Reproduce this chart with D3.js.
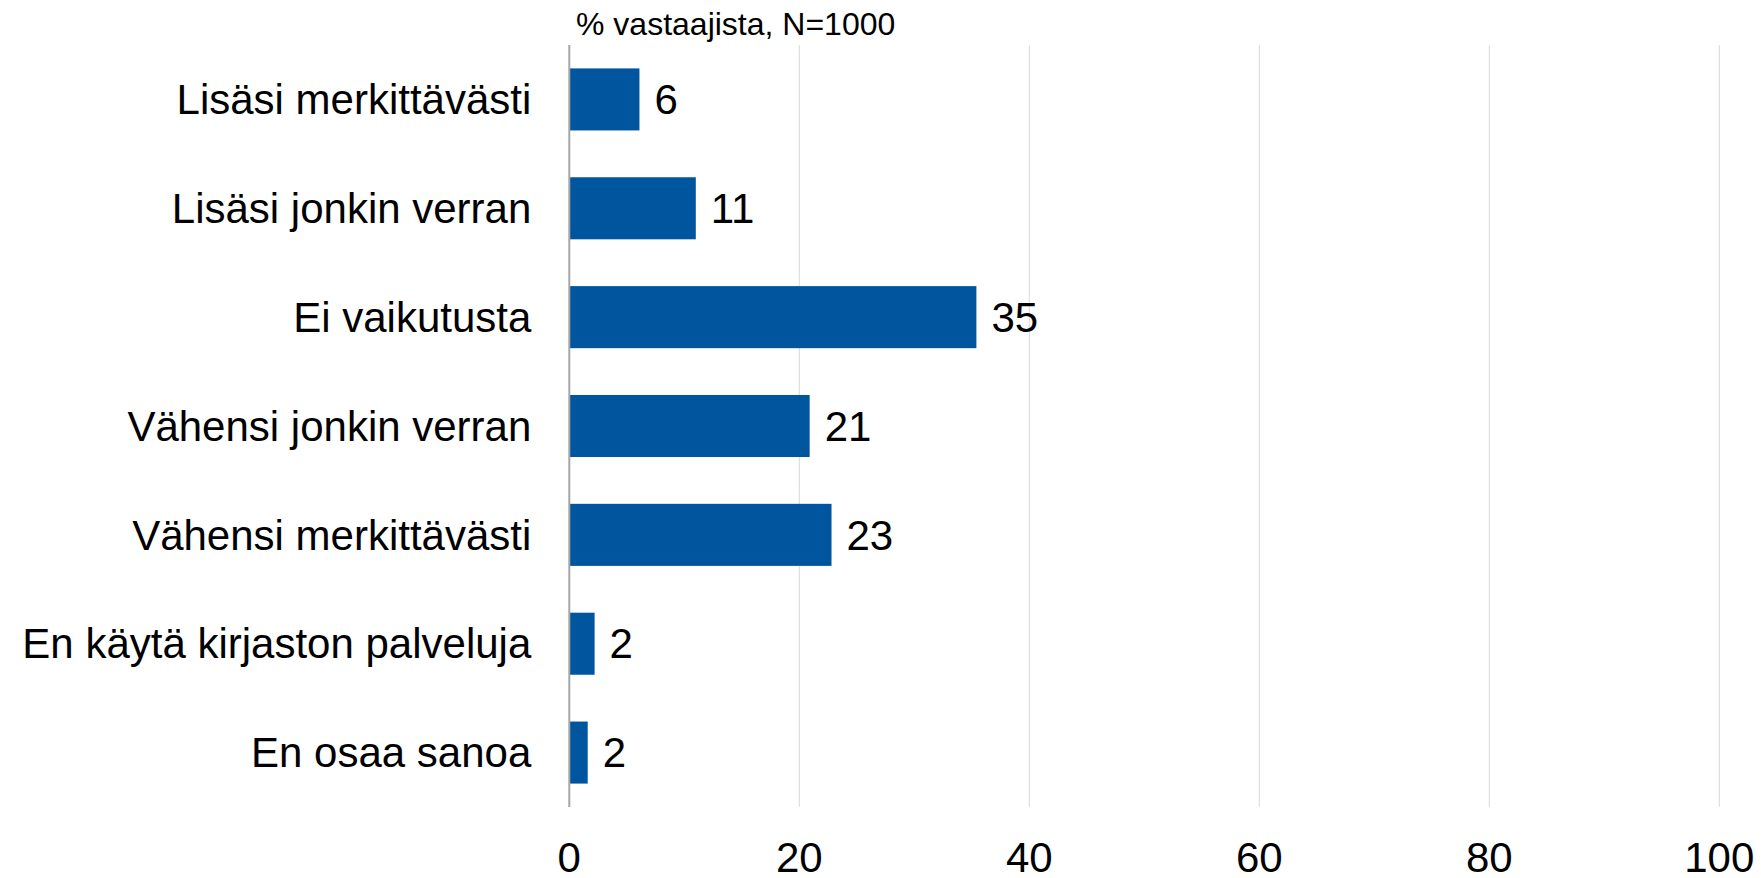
<!DOCTYPE html>
<html>
<head>
<meta charset="utf-8">
<script src="https://cdn.jsdelivr.net/npm/d3@7"></script>
<style>
  body { margin: 0; background: #fff; }
  svg { display: block; font-family: "Liberation Sans", Arial, sans-serif; }
  .grid line { stroke: #d9d9d9; stroke-width: 1; }
  .axis-line { stroke: #a6a6a6; stroke-width: 2; }
  .bar { fill: #00559f; }
  .cat-label { font-size: 42px; fill: #000; }
  .value-label { font-size: 42px; fill: #000; }
  .tick-label { font-size: 42px; fill: #000; }
  .title { font-size: 32px; fill: #000; }
</style>
</head>
<body>
<div id="chart"></div>
<script>
// data
const categories = [
  'Lisäsi merkittävästi',
  'Lisäsi jonkin verran',
  'Ei vaikutusta',
  'Vähensi jonkin verran',
  'Vähensi merkittävästi',
  'En käytä kirjaston palveluja',
  'En osaa sanoa'
];
const values = [6.1, 11.0, 35.4, 20.9, 22.8, 2.2, 1.6];
const valueLabels = ['6', '11', '35', '21', '23', '2', '2'];
const xTicks = [0, 20, 40, 60, 80, 100];
const title = '% vastaajista, N=1000';

class BarChart {
  constructor(selector, w, h) {
    this.w = w;
    this.h = h;
    this.root = selector.html('')
      .append('svg')
      .attr('width', this.w)
      .attr('height', this.h);
  }

  init() {
    this.left = 569.3;
    this.right = 1719.3;
    this.top = 45;
    this.bottom = 807;
    this.xScale = d3.scaleLinear()
      .domain([0, 100])
      .range([this.left, this.right]);
    this.yScale = d3.scaleBand()
      .domain(categories)
      .range([this.top, this.bottom])
      .paddingInner(0.43)
      .paddingOuter(0.215);
    this.drawGrid();
    this.drawBars();
    this.drawLabels();
  }

  drawGrid() {
    let grid = this.root.append('g').attr('class', 'grid');
    grid.selectAll('line')
      .data(xTicks.filter(d => d > 0))
      .enter()
      .append('line')
      .attr('x1', d => this.xScale(d))
      .attr('x2', d => this.xScale(d))
      .attr('y1', this.top)
      .attr('y2', this.bottom);

    // tick labels under the plot
    this.root.append('g')
      .selectAll('text')
      .data(xTicks)
      .enter()
      .append('text')
      .attr('class', 'tick-label')
      .attr('x', d => this.xScale(d))
      .attr('y', 872)
      .attr('text-anchor', 'middle')
      .text(d => d);
  }

  drawBars() {
    this.root.append('g')
      .selectAll('rect')
      .data(values)
      .enter()
      .append('rect')
      .attr('class', 'bar')
      .attr('x', this.xScale(0))
      .attr('y', (d, i) => this.yScale(categories[i]))
      .attr('width', d => this.xScale(d) - this.xScale(0))
      .attr('height', this.yScale.bandwidth());

    // value axis line drawn over the bars
    this.root.append('line')
      .attr('class', 'axis-line')
      .attr('x1', this.xScale(0))
      .attr('x2', this.xScale(0))
      .attr('y1', this.top)
      .attr('y2', this.bottom);
  }

  drawLabels() {
    let mid = c => this.yScale(c) + this.yScale.bandwidth() / 2;

    this.root.append('g')
      .selectAll('text')
      .data(categories)
      .enter()
      .append('text')
      .attr('class', 'cat-label')
      .attr('x', this.left - 38)
      .attr('y', d => mid(d))
      .attr('dy', '0.35em')
      .attr('text-anchor', 'end')
      .text(d => d);

    this.root.append('g')
      .selectAll('text')
      .data(values)
      .enter()
      .append('text')
      .attr('class', 'value-label')
      .attr('x', d => this.xScale(d) + 15)
      .attr('y', (d, i) => mid(categories[i]))
      .attr('dy', '0.35em')
      .text((d, i) => valueLabels[i]);

    this.root.append('text')
      .attr('class', 'title')
      .attr('x', 576)
      .attr('y', 35)
      .text(title);
  }
}

const chart = new BarChart(d3.select('#chart'), 1761, 878);
chart.init();
</script>
</body>
</html>
